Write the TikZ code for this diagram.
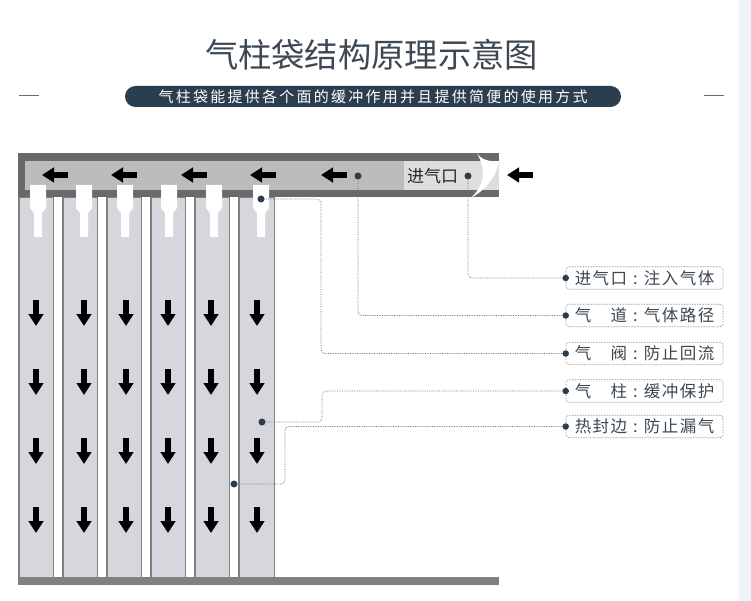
\documentclass[tikz,border=0pt]{standalone}
\usepackage{fontspec}
\setmainfont{Noto Sans CJK SC}
\newfontfamily\titlefont{Noto Sans CJK SC}
\newfontfamily\pillfont[LetterSpace=15]{Noto Sans CJK SC}
\newfontfamily\labelfont[LetterSpace=9]{Noto Sans CJK SC}
\definecolor{slatetext}{RGB}{61, 72, 82}
\definecolor{midnight}{RGB}{43, 62, 80}
\definecolor{framegray}{RGB}{106, 105, 105}
\definecolor{channelgray}{RGB}{189, 188, 188}
\definecolor{inletgray}{RGB}{222, 222, 222}
\definecolor{columngray}{RGB}{214, 215, 220}
\definecolor{edgegray}{RGB}{128, 128, 128}
\definecolor{sideblue}{RGB}{238, 243, 251}
\definecolor{leadergray}{RGB}{110, 114, 118}
\usetikzlibrary{arrows.meta}
\tikzset{
  flowarrow/.style={black, line width=6.5pt, -{Triangle[length=12pt,width=14.5pt]}},
  leader/.style={leadergray, line width=0.7pt, densely dotted, rounded corners=4pt},
  pin/.style={circle, fill=midnight, inner sep=0pt, minimum size=7pt},
  tag/.style={draw=leadergray, line width=0.6pt, densely dotted, rounded corners=3pt, minimum width=157pt, minimum height=22.5pt, inner sep=0pt, text=slatetext, font=\fontsize{16.5}{18}\labelfont},
  tagpin/.style={circle, fill=midnight, inner sep=0pt, minimum size=6.5pt}
}
\newcommand{\tagsep}{\hspace{6pt}:\hspace{6pt}}
\begin{document}
\begin{tikzpicture}[x=1pt, y=-1pt]
\useasboundingbox (0,0) rectangle (751,601);
\fill[white]                  (0,0) rectangle (751,601);
\fill[sideblue]               (739,0) rectangle (751,601);
% heading
\node[text=slatetext, font=\fontsize{33.3}{38}\titlefont] (heading) at (371.5,55) {气柱袋结构原理示意图};
\node[fill=midnight, rounded corners=10.5pt, minimum width=496pt, minimum height=21pt, inner sep=0pt, text=white, font=\fontsize{15}{18}\pillfont] (banner) at (373,96.5) {气柱袋能提供各个面的缓冲作用并且提供简便的使用方式};
\draw[framegray, line width=0.8pt] (19,95) -- (39,95);
\draw[framegray, line width=0.8pt] (704,95) -- (724,95);
% columns
\foreach \xa/\xb in {18/54, 62/98, 106/142, 150/186, 194/230, 238/275}
  \filldraw[draw=edgegray, fill=columngray, line width=1.5pt] (\xa+0.75,197) rectangle (\xb-0.75,578);
% bottom edge and inlet channel
\fill[edgegray]               (18,577) rectangle (499,585);
\fill[framegray]              (18,153) rectangle (499,197);
\fill[channelgray]            (25,161) rectangle (499,190);
\fill[inletgray]              (404,161) rectangle (499,190);
% torn corner
\fill[white]                  (477,153) .. controls (481,160) and (490,162) .. (499,161)
                              .. controls (496,178) and (485,190) .. (471,198)
                              .. controls (484,185) and (487,172) .. (477,153);
% valves
\foreach \xv in {38, 84, 125, 169, 214, 261}
  \fill[white] (\xv-8,185) -- (\xv+8,185) -- (\xv+8,208) -- (\xv+4,213) -- (\xv+4,237) -- (\xv-4,237) -- (\xv-4,213) -- (\xv-8,208) -- cycle;
% air flow
\foreach \xs in {68, 137, 207, 276, 347, 533}
  \draw[flowarrow] (\xs,175) -- (\xs-26,175);
\foreach \xs in {36, 84, 126, 168, 211, 257}
  \foreach \ys in {300, 369, 438, 507}
    \draw[flowarrow] (\xs,\ys) -- (\xs,\ys+26);
% parts
\node[text=black!85, font=\fontsize{17}{18}\selectfont, anchor=west, inner sep=0pt] (inletword) at (407,176) {进气口};
\node[pin] (inlet) at (468,176) {};
\node[pin] (channel) at (358,176) {};
\node[pin] (valve) at (261,199) {};
\node[pin] (column) at (262,422) {};
\node[pin] (seam) at (234,484) {};
% labels
\node[tag] (taginlet)   at (644.5,278)   {进气口\tagsep 注入气体};
\node[tag] (tagchannel) at (644.5,315.5) {气　道\tagsep 气体路径};
\node[tag] (tagvalve)   at (644.5,353.5) {气　阀\tagsep 防止回流};
\node[tag] (tagcolumn)  at (644.5,391)   {气　柱\tagsep 缓冲保护};
\node[tag] (tagseam)    at (644.5,426.5) {热封边\tagsep 防止漏气};
\node[tagpin] (pininlet)   at (taginlet.west)   {};
\node[tagpin] (pinchannel) at (tagchannel.west) {};
\node[tagpin] (pinvalve)   at (tagvalve.west)   {};
\node[tagpin] (pincolumn)  at (tagcolumn.west)  {};
\node[tagpin] (pinseam)    at (tagseam.west)    {};
% leaders
\draw[leader] (inlet) |- (pininlet);
\draw[leader] (channel) |- (pinchannel);
\draw[leader] (valve) -- (321,199) -- (321,353.5) -- (pinvalve);
\draw[leader] (column) -- (322,422) -- (322,391) -- (pincolumn);
\draw[leader] (seam) -- (285,484) -- (285,426.5) -- (pinseam);
\end{tikzpicture}
\end{document}
